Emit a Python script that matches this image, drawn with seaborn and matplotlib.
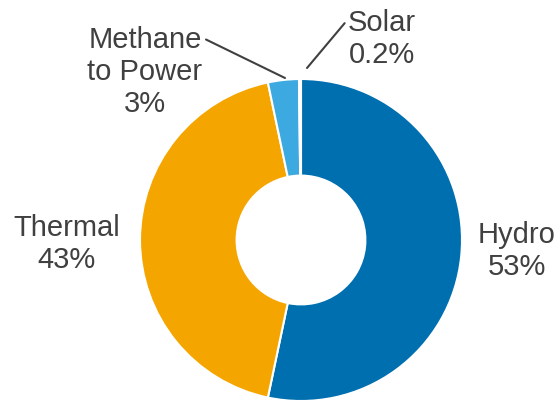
import matplotlib
matplotlib.use("Agg")
import matplotlib.pyplot as plt
import seaborn as sns

categories = ["Hydro", "Thermal", "Methane\nto Power", "Solar"]
values = [53.3, 43.4, 3.1, 0.2]
pct_labels = ["53%", "43%", "3%", "0.2%"]
colors = ["#006FAF", "#F5A500", "#3CAAE1", "#D9D9D9"]

sns.set_style("white")
plt.rcParams["font.family"] = ["Liberation Sans", "DejaVu Sans"]

fig = plt.figure(figsize=(5.6, 4.01), dpi=100)
ax = fig.add_axes([0, 0, 1, 1])
cx, cy, R = 301, 240, 161

ax.pie(values, colors=colors, startangle=90, counterclock=False, radius=1.0,
       wedgeprops=dict(width=0.6, edgecolor="white", linewidth=1.5))

ax.set_aspect("auto")
ax.set_xlim(-cx / R, (560 - cx) / R)
ax.set_ylim((cy - 401) / R, cy / R)
ax.axis("off")

tc = "#404040"
fs = 21
ls = 1.2
def px(x, y):
    return ((x - cx) / R, (cy - y) / R)

ax.text(*px(517, 251), f"{categories[0]}\n{pct_labels[0]}", ha="center", va="center",
        fontsize=fs, color=tc, linespacing=ls)
ax.text(*px(67, 244), f"{categories[1]}\n{pct_labels[1]}", ha="center", va="center",
        fontsize=fs, color=tc, linespacing=ls)
ax.annotate(f"{categories[2]}\n{pct_labels[2]}", xy=px(285, 78), xytext=px(145, 72),
            ha="center", va="center", fontsize=fs, color=tc, linespacing=ls,
            arrowprops=dict(arrowstyle="-", color=tc, lw=1.5, shrinkA=0, shrinkB=0,
                            relpos=(1.03, 0.85)))
ax.annotate(f"{categories[3]}\n{pct_labels[3]}", xy=px(307, 68), xytext=px(382, 39),
            ha="center", va="center", fontsize=fs, color=tc, linespacing=ls,
            arrowprops=dict(arrowstyle="-", color=tc, lw=1.5, shrinkA=0, shrinkB=0,
                            relpos=(-0.02, 0.8)))

fig.savefig("out.png", dpi=100)
